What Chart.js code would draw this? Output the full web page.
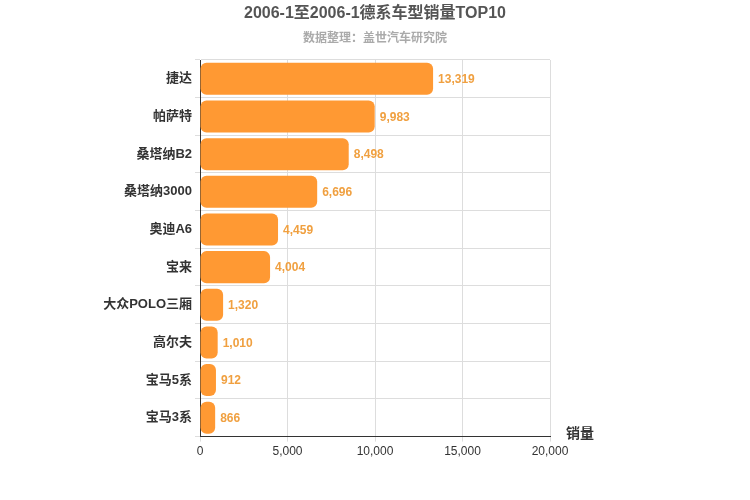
<!DOCTYPE html>
<html><head><meta charset="utf-8">
<script src="https://cdn.jsdelivr.net/npm/chart.js@4"></script>
<style>body{margin:0;background:#fff}#w{width:750px;height:500px}</style>
</head><body><div id="w"><canvas id="c"></canvas></div>
<script>
const categories = ["捷达","帕萨特","桑塔纳B2","桑塔纳3000","奥迪A6","宝来","大众POLO三厢","高尔夫","宝马5系","宝马3系"];
const sales = [13319,9983,8498,6696,4459,4004,1320,1010,912,866];
const xTicks = [0,5000,10000,15000,20000];
const FONT = "'Liberation Sans', 'Noto Sans CJK SC', sans-serif";
const labelPlugin = {
  id:'lbl',
  afterDatasetsDraw(chart){
    const ctx=chart.ctx, meta=chart.getDatasetMeta(0);
    ctx.save();
    ctx.font="bold 12px "+FONT; ctx.fillStyle="#f0a040"; ctx.textBaseline="middle"; ctx.textAlign="left";
    meta.data.forEach((b,i)=>ctx.fillText(sales[i].toLocaleString('en-US'), b.x+5, b.y+1));
    const a=chart.chartArea;
    ctx.font="bold 14px "+FONT; ctx.fillStyle="#333"; ctx.textAlign="left";
    ctx.fillText("销量", a.right+16, a.bottom-2);
    ctx.textAlign="center";
    ctx.font="bold 16px "+FONT; ctx.fillStyle="#555";
    ctx.fillText("2006-1至2006-1德系车型销量TOP10", chart.width/2, 14);
    ctx.font="bold 12px "+FONT; ctx.fillStyle="#aaa";
    ctx.fillText("数据整理：盖世汽车研究院", chart.width/2, 39);
    ctx.restore();
  }
};
new Chart(document.getElementById('c'),{
  type:'bar',
  data:{labels:categories,datasets:[{data:sales,backgroundColor:'#ff9933',borderRadius:6,borderSkipped:false,barPercentage:0.85,categoryPercentage:1}]},
  options:{
    indexAxis:'y',responsive:true,maintainAspectRatio:false,animation:false,
    layout:{padding:{left:10,right:200,top:60,bottom:38}},
    plugins:{legend:{display:false},tooltip:{enabled:false}},
    scales:{
      x:{min:0,max:20000,afterBuildTicks(s){s.ticks=xTicks.map(v=>({value:v}));},
        ticks:{color:'#333',font:{family:FONT,size:12},callback:v=>v.toLocaleString('en-US')},
        grid:{color:'#ddd',drawTicks:true,tickLength:5},border:{color:'#333'}},
      y:{afterFit(s){s.width=190;},ticks:{color:'#333',font:{family:FONT,size:13,weight:'bold'}},grid:{color:'#ddd',offset:true,tickLength:5},border:{color:'#333'}}
    }
  },
  plugins:[labelPlugin]
});
</script></body></html>
